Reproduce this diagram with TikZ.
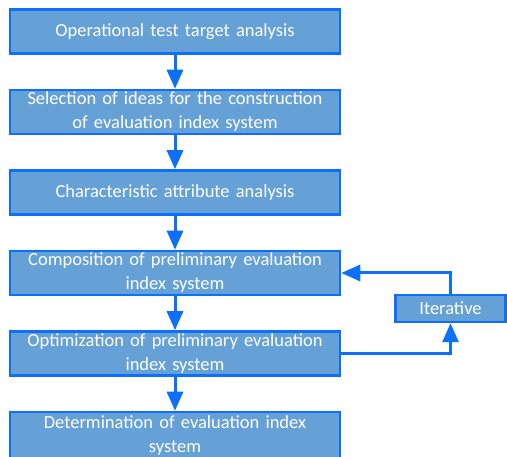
\documentclass[tikz,border=0pt]{standalone}
\usepackage{fontspec}
\setmainfont{Carlito}
\usepackage{tikz}
\usetikzlibrary{arrows.meta, positioning}
\definecolor{boxfill}{RGB}{101,160,214}
\definecolor{boxline}{RGB}{12,112,250}

\begin{document}
\begin{tikzpicture}[x=1pt, y=1pt, node distance=80.5pt]
    \tikzstyle{stage} = [draw=boxline, line width=2.5pt, rectangle, fill=boxfill, text=white,
        minimum width=330pt, minimum height=44pt, text width=326pt, align=center, inner sep=1pt,
        font=\fontsize{18.5}{24}\selectfont]
    \tikzstyle{loopbox} = [draw=boxline, line width=2.5pt, rectangle, fill=boxfill, text=white,
        minimum width=110pt, minimum height=27pt, inner sep=1pt, font=\fontsize{18.5}{20}\selectfont]
    \tikzstyle{flow} = [draw, color=boxline, line width=3pt, -{Triangle[width=16pt,length=19pt]}]

    \useasboundingbox (0,0) rectangle (507,-457);

    % Main column
    \node[stage] (target) at (175,-31.5) {Operational test target analysis};
    \node[stage, below of=target] (ideas) {Selection of ideas for the construction\\of evaluation index system};
    \node[stage, below of=ideas] (attribute) {Characteristic attribute analysis};
    \node[stage, below of=attribute] (composition) {Composition of preliminary evaluation\\index system};
    \node[stage, below of=composition] (optimization) {Optimization of preliminary evaluation\\index system};
    \node[stage, below of=optimization, minimum height=47pt, yshift=-1.5pt] (determination) {Determination of evaluation index\\system};

    % Loop
    \node[loopbox] (iterative) at (450.5,-308.5) {Iterative};

    % Edges
    \path[flow]
        (target) edge (ideas)
        (ideas) edge (attribute)
        (attribute) edge (composition)
        (composition) edge (optimization)
        (optimization) edge (determination);
    \draw[flow] (optimization.east) -| (iterative.south);
    \draw[flow] (iterative.north) |- (composition.east);
\end{tikzpicture}
\end{document}
